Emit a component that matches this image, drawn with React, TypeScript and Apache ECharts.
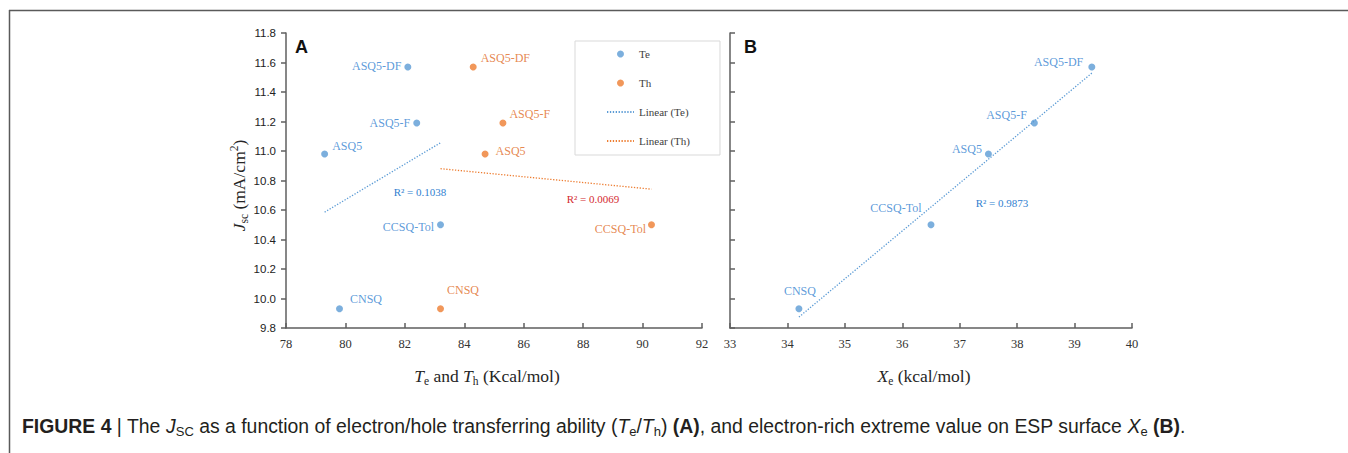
import React, { useEffect, useRef } from 'react';
import * as echarts from 'echarts';

// ---------- data ----------
const compounds = ['CNSQ', 'CCSQ-Tol', 'ASQ5', 'ASQ5-F', 'ASQ5-DF'];
const jsc = [9.93, 10.5, 10.98, 11.19, 11.57];
const te = [79.8, 83.2, 79.3, 82.4, 82.1];
const th = [83.2, 90.3, 84.7, 85.3, 84.3];
const xe = [34.2, 36.5, 37.5, 38.3, 39.3];
const r2Labels = ['R² = 0.1038', 'R² = 0.0069', 'R² = 0.9873'];
const legendNames = ['Te', 'Th', 'Linear (Te)', 'Linear (Th)'];

// ---------- styles ----------
const BLUE = '#5b9bd5';
const BLUE_TXT = '#3281d0';
const ORANGE = '#ed7d31';
const ORANGE_TXT = '#e06a24';
const RED_TXT = '#d42a30';
const AXIS = '#5f5f5f';
const SERIF = 'Liberation Serif, Times New Roman, serif';
const SANS = 'Liberation Sans, Arial, sans-serif';

type LL = { position: string; distance: number; offset: number[] };
const labelLayoutTe: LL[] = [
  { position: 'right', distance: 7, offset: [0, -10] },
  { position: 'left', distance: 3, offset: [0, 2] },
  { position: 'right', distance: 4, offset: [0, -8] },
  { position: 'left', distance: 3, offset: [0, 0] },
  { position: 'left', distance: 3, offset: [0, -1] },
];
const labelLayoutTh: LL[] = [
  { position: 'right', distance: 3, offset: [0, -19] },
  { position: 'left', distance: 2, offset: [0, 4] },
  { position: 'right', distance: 7, offset: [0, -3] },
  { position: 'right', distance: 3, offset: [0, -9] },
  { position: 'right', distance: 4, offset: [0, -9] },
];
const labelLayoutXe: LL[] = [
  { position: 'top', distance: 8, offset: [1, 0] },
  { position: 'left', distance: 6, offset: [0, -17] },
  { position: 'left', distance: 3, offset: [0, -5] },
  { position: 'left', distance: 4, offset: [0, -8] },
  { position: 'left', distance: 5, offset: [0, -5] },
];

function linearFit(xs: number[], ys: number[]) {
  const n = xs.length;
  const mx = xs.reduce((a, b) => a + b, 0) / n;
  const my = ys.reduce((a, b) => a + b, 0) / n;
  let sxy = 0;
  let sxx = 0;
  for (let i = 0; i < n; i++) {
    sxy += (xs[i] - mx) * (ys[i] - my);
    sxx += (xs[i] - mx) * (xs[i] - mx);
  }
  const k = sxy / sxx;
  const b = my - k * mx;
  const x0 = Math.min(...xs);
  const x1 = Math.max(...xs);
  return [
    [x0, b + k * x0],
    [x1, b + k * x1],
  ];
}

function points(xs: number[], layout: LL[]) {
  return xs.map((x, i) => ({
    value: [x, jsc[i]],
    name: compounds[i],
    label: { position: layout[i].position, distance: layout[i].distance, offset: layout[i].offset },
  }));
}

const axisLineStyle = { color: AXIS, width: 1.5 };
const hiddenSymbol = { color: 'rgba(0,0,0,0)', borderWidth: 0, opacity: 0 };

export default function App() {
  const ref = useRef<HTMLDivElement>(null);
  useEffect(() => {
    if (!ref.current) return;
    const chart = echarts.init(ref.current, null, { renderer: 'svg' });
    const scatterLabel = (color: string) => ({
      show: true,
      formatter: '{b}',
      color,
      fontFamily: SERIF,
      fontSize: 12,
    });
    const nameRich = {
      n: { fontFamily: SERIF, fontSize: 17.5, color: '#262626', lineHeight: 22 },
      i: { fontFamily: SERIF, fontSize: 17.5, fontStyle: 'italic', color: '#262626', lineHeight: 22 },
      sub: { fontFamily: SERIF, fontSize: 11.5, color: '#262626', lineHeight: 10, verticalAlign: 'bottom' },
      sup: { fontFamily: SERIF, fontSize: 11.5, color: '#262626', lineHeight: 10, verticalAlign: 'top' },
    };
    const capBase = { fontFamily: SANS, fontSize: 19.4, fill: '#231f20', lineHeight: 24 };
    const option: any = {
      animation: false,
      backgroundColor: '#ffffff',
      grid: [
        { left: 286, top: 33, width: 416, height: 295 },
        { left: 730, top: 33, width: 402, height: 295 },
      ],
      legend: {
        data: [
          { name: legendNames[0] },
          { name: legendNames[1] },
          { name: legendNames[2], itemStyle: hiddenSymbol },
          { name: legendNames[3], itemStyle: hiddenSymbol },
        ],
        orient: 'vertical',
        left: 575,
        top: 41,
        padding: [6, 30, 7, 31],
        itemGap: 15,
        itemWidth: 27,
        itemHeight: 7,
        borderColor: '#d9d9d9',
        borderWidth: 1,
        textStyle: { fontFamily: SERIF, fontSize: 11, color: '#404040', lineHeight: 14 },
      },
      xAxis: [
        {
          type: 'value',
          gridIndex: 0,
          min: 78,
          max: 92,
          interval: 2,
          splitLine: { show: false },
          axisLine: { show: true, lineStyle: axisLineStyle },
          axisTick: { show: true, inside: true, length: 5, lineStyle: axisLineStyle },
          axisLabel: { fontFamily: SERIF, fontSize: 12.5, color: '#333333', margin: 9 },
          name: '{i|T}{sub|e}{n| and }{i|T}{sub|h}{n| (Kcal/mol)}',
          nameLocation: 'middle',
          nameGap: 37,
          nameTextStyle: { rich: nameRich, padding: [0, 14, 0, 0] },
        },
        {
          type: 'value',
          gridIndex: 1,
          min: 33,
          max: 40,
          interval: 1,
          splitLine: { show: false },
          axisLine: { show: true, lineStyle: axisLineStyle },
          axisTick: { show: true, inside: true, length: 5, lineStyle: axisLineStyle },
          axisLabel: { fontFamily: SERIF, fontSize: 12.5, color: '#333333', margin: 9 },
          name: '{i|X}{sub|e}{n| (kcal/mol)}',
          nameLocation: 'middle',
          nameGap: 37,
          nameTextStyle: { rich: nameRich, padding: [0, 14, 0, 0] },
        },
      ],
      yAxis: [
        {
          type: 'value',
          gridIndex: 0,
          min: 9.8,
          max: 11.8,
          interval: 0.2,
          splitLine: { show: false },
          axisLine: { show: true, lineStyle: axisLineStyle },
          axisTick: { show: true, inside: false, length: 5, lineStyle: axisLineStyle },
          axisLabel: {
            fontFamily: SANS,
            fontSize: 11.5,
            color: '#222222',
            margin: 10,
            formatter: (v: number) => v.toFixed(1),
          },
          name: '{i|J}{sub|sc}{n| (mA/cm}{sup|2}{n|)}',
          nameLocation: 'middle',
          nameRotate: 90,
          nameGap: 36,
          nameTextStyle: { rich: nameRich, padding: [0, 10, 0, 0] },
        },
        {
          type: 'value',
          gridIndex: 1,
          min: 9.8,
          max: 11.8,
          interval: 0.2,
          splitLine: { show: false },
          axisLine: { show: true, lineStyle: axisLineStyle },
          axisTick: { show: true, inside: true, length: 5, lineStyle: axisLineStyle },
          axisLabel: { show: false },
        },
      ],
      series: [
        {
          name: 'Te',
          type: 'scatter',
          xAxisIndex: 0,
          yAxisIndex: 0,
          symbol: 'circle',
          symbolSize: 7,
          itemStyle: { color: BLUE },
          label: scatterLabel(BLUE_TXT),
          data: points(te, labelLayoutTe),
        },
        {
          name: 'Th',
          type: 'scatter',
          xAxisIndex: 0,
          yAxisIndex: 0,
          symbol: 'circle',
          symbolSize: 7,
          itemStyle: { color: ORANGE },
          label: scatterLabel(ORANGE_TXT),
          data: points(th, labelLayoutTh),
        },
        {
          name: 'Linear (Te)',
          type: 'line',
          xAxisIndex: 0,
          yAxisIndex: 0,
          symbol: 'none',
          itemStyle: { color: BLUE },
          lineStyle: { color: BLUE, width: 1.3, type: [1.3, 1.6] },
          data: linearFit(te, jsc),
        },
        {
          name: 'Linear (Th)',
          type: 'line',
          xAxisIndex: 0,
          yAxisIndex: 0,
          symbol: 'none',
          itemStyle: { color: ORANGE },
          lineStyle: { color: ORANGE, width: 1.3, type: [1.3, 1.6] },
          data: linearFit(th, jsc),
        },
        {
          name: 'Xe',
          type: 'scatter',
          xAxisIndex: 1,
          yAxisIndex: 1,
          symbol: 'circle',
          symbolSize: 7,
          itemStyle: { color: BLUE },
          label: scatterLabel(BLUE_TXT),
          data: points(xe, labelLayoutXe),
        },
        {
          name: 'Linear (Xe)',
          type: 'line',
          xAxisIndex: 1,
          yAxisIndex: 1,
          symbol: 'none',
          itemStyle: { color: BLUE },
          lineStyle: { color: BLUE, width: 1.3, type: [1.3, 1.6] },
          data: linearFit(xe, jsc),
        },
      ],
      graphic: [
        { type: 'line', shape: { x1: 9, y1: 10.5, x2: 1348, y2: 10.5 }, style: { stroke: '#5a5a5a', lineWidth: 1.5 } },
        { type: 'line', shape: { x1: 9.5, y1: 10, x2: 9.5, y2: 453 }, style: { stroke: '#5a5a5a', lineWidth: 1.5 } },
        {
          type: 'text',
          x: 295,
          y: 46.5,
          style: { text: 'A', fontFamily: SANS, fontSize: 18, fontWeight: 'bold', fill: '#111', verticalAlign: 'middle' },
        },
        {
          type: 'text',
          x: 744,
          y: 46.5,
          style: { text: 'B', fontFamily: SANS, fontSize: 18, fontWeight: 'bold', fill: '#111', verticalAlign: 'middle' },
        },
        {
          type: 'text',
          x: 420,
          y: 192,
          style: { text: r2Labels[0], fontFamily: SERIF, fontSize: 11, fill: BLUE_TXT, align: 'center', verticalAlign: 'middle' },
        },
        {
          type: 'text',
          x: 593,
          y: 199,
          style: { text: r2Labels[1], fontFamily: SERIF, fontSize: 11, fill: RED_TXT, align: 'center', verticalAlign: 'middle' },
        },
        {
          type: 'text',
          x: 1002,
          y: 203,
          style: { text: r2Labels[2], fontFamily: SERIF, fontSize: 11, fill: BLUE_TXT, align: 'center', verticalAlign: 'middle' },
        },
        {
          type: 'text',
          x: 22,
          y: 426,
          style: {
            text:
              '{b|FIGURE 4}{n| | The }{i|J}{sub|SC}{n| as a function of electron/hole transferring ability (}{i|T}{sub|e}{n|/}{i|T}{sub|h}{n|) }{b|(A)}{n|, and electron-rich extreme value on ESP surface }{i|X}{sub|e}{n| }{b|(B)}{n|.}',
            verticalAlign: 'middle',
            rich: {
              n: { ...capBase },
              b: { ...capBase, fontWeight: 'bold' },
              i: { ...capBase, fontStyle: 'italic' },
              sub: { fontFamily: SANS, fontSize: 13, fill: '#231f20', lineHeight: 12, verticalAlign: 'bottom' },
            },
          },
        },
      ],
    };
    chart.setOption(option);
    return () => chart.dispose();
  }, []);
  return (
    <div
      ref={ref}
      style={{ position: 'fixed', left: 0, top: 0, width: 1348, height: 453, background: '#fff' }}
    />
  );
}
